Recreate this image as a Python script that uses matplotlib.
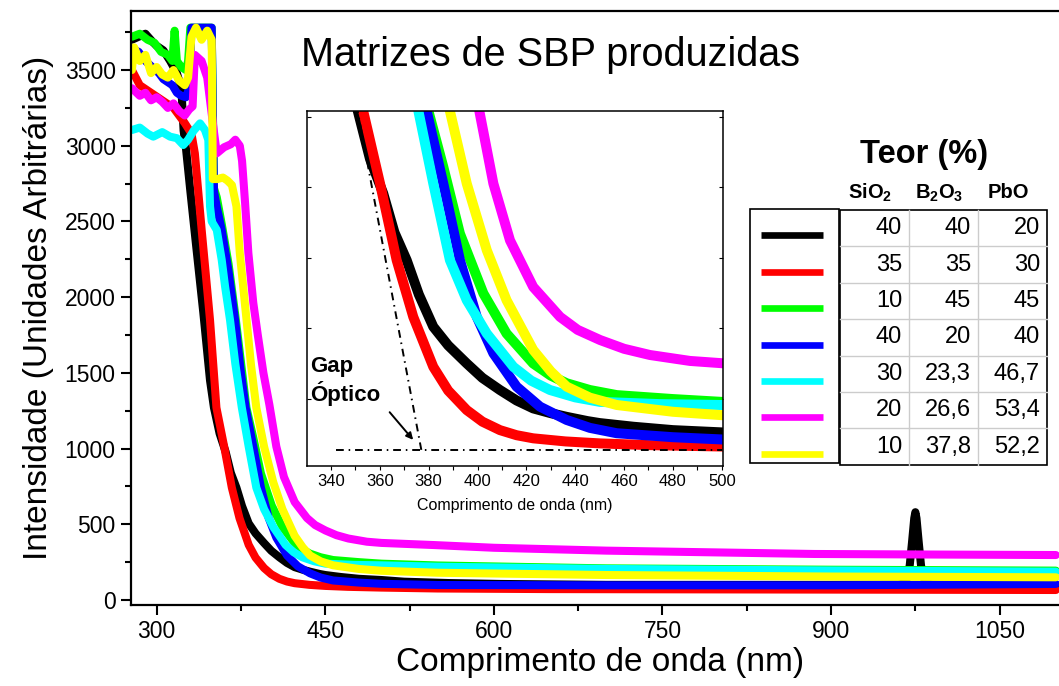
import matplotlib
matplotlib.use('Agg')
import matplotlib.pyplot as plt
from matplotlib.ticker import MultipleLocator
from matplotlib.patches import Rectangle
from matplotlib.lines import Line2D

plt.rcParams['font.family'] = ['Liberation Sans', 'DejaVu Sans']
plt.rcParams['mathtext.fontset'] = 'custom'
plt.rcParams['mathtext.rm'] = 'Liberation Sans'
plt.rcParams['mathtext.bf'] = 'Liberation Sans:bold'

# --- spectra (wavelength nm, intensity a.u.) ---
black_x = [278, 284, 290, 296, 300, 306, 312, 318, 322, 324, 326, 330, 335, 341.5, 347.5, 351, 356,
           361.4, 366, 371, 376, 381.9, 388, 395.6, 402, 409.2, 416, 422.8, 430, 436.5, 445, 450, 463.8,
           480, 500, 520, 560, 606, 700, 800, 900, 960, 965, 968, 970, 972, 974, 975, 976, 978, 980,
           982, 985, 990, 1000, 1050, 1100]
black_y = [3700, 3720, 3740, 3690, 3660, 3630, 3560, 3480, 3380, 3100, 2990, 2700, 2350, 1900, 1450,
           1270, 1100, 978, 840, 742, 620, 506, 440, 376, 325, 282, 245, 217, 200, 187, 172, 165, 152,
           140, 132, 121, 112, 106, 100, 100, 100, 102, 110, 150, 230, 380, 540, 580, 540, 380, 230,
           150, 110, 102, 100, 100, 100]

red_x = [278, 285, 295, 305, 315, 325, 331, 334, 340, 347.5, 353.2, 360.1, 366.9, 373.7, 381.9, 388,
         395.6, 402, 409.2, 416, 422.8, 436, 450.2, 470, 500, 550, 650, 800, 950, 1100]
red_y = [3500, 3400, 3350, 3300, 3250, 3150, 3080, 2950, 2450, 1849, 1270, 1013, 742, 541, 364, 280,
         211, 170, 140, 122, 111, 100, 93, 87, 82, 76, 72, 70, 68, 66]

green_x = [278, 285, 292, 298, 304, 310, 314, 316, 318, 322, 326, 328, 330, 349, 351, 353.5, 358, 364,
           370, 379.9, 386, 392.8, 402.4, 411.9, 422.8, 430, 436.5, 446, 457, 480, 500, 550, 700, 900,
           1100]
green_y = [3720, 3740, 3700, 3680, 3620, 3600, 3560, 3760, 3560, 3520, 3500, 3560, 3780, 3780, 2720,
           2660, 2480, 2220, 1880, 1270, 1072, 836, 624, 482, 376, 333, 306, 282, 264, 250, 240, 228,
           209, 200, 194]

blue_x = [278, 284, 290, 296, 302, 306, 310, 314, 318, 322, 326, 329, 331, 349, 351, 353.5, 357.9,
          363.8, 369.8, 375, 379.2, 386, 392.8, 399.7, 406.5, 416, 425.6, 436.5, 446, 457, 480, 500,
          550, 700, 900, 1100]
blue_y = [3640, 3620, 3560, 3520, 3480, 3440, 3420, 3400, 3350, 3330, 3320, 3380, 3780, 3780, 2700,
          2598, 2444, 2180, 1849, 1500, 1270, 1013, 742, 541, 412, 294, 223, 176, 148, 129, 115, 107,
          99, 97, 97, 106]

cyan_x = [278, 285, 292, 297, 305, 312, 318, 323.7, 328, 333, 338.6, 343, 346, 347.5, 349, 353.5, 357.9,
          360.9, 365.3, 370, 375.8, 381.9, 388.7, 395.6, 403.8, 414.7, 422, 429.7, 440, 450.2, 475,
          500, 550, 700, 900, 1100]
cyan_y = [3104, 3120, 3080, 3060, 3090, 3060, 3050, 3005, 3040, 3100, 3148, 3104, 3038, 2600, 2500,
          2444, 2246, 2070, 1849, 1560, 1270, 1013, 742, 600, 482, 364, 315, 282, 256, 240, 232, 229,
          220, 205, 195, 187]

magenta_x = [278, 285, 290, 295, 300, 305, 310, 315, 320, 325, 329, 332, 334, 340, 345, 350, 353.5,
             360, 366, 370, 374, 376, 378.7, 381.6, 386, 390, 395, 400.3, 406.5, 413.3, 422.8, 433.8,
             441, 450.2, 460, 470.6, 487, 500, 546.5, 600, 700, 885, 1000, 1100]
magenta_y = [3380, 3330, 3350, 3300, 3320, 3290, 3250, 3280, 3230, 3200, 3240, 3260, 3600, 3560, 3450,
             3150, 2950, 2990, 3010, 3040, 3000, 2900, 2622, 2292, 1962, 1750, 1500, 1290, 1013, 812,
             647, 541, 495, 459, 428, 406, 385, 377, 363, 345, 326, 304, 300, 297]

yellow_x = [278, 280, 285, 290, 295, 300, 305, 310, 315, 320, 325, 328, 331, 335, 340, 345, 349, 350,
            354, 359, 363, 367, 371, 374, 377, 380, 384, 388.7, 395.6, 403.8, 411.9, 422.8, 430,
            436.5, 446, 457, 480, 500, 550, 700, 900, 1100]
yellow_y = [3500, 3650, 3560, 3600, 3480, 3520, 3470, 3450, 3500, 3430, 3400, 3450, 3720, 3780, 3700,
            3760, 3700, 2780, 2780, 2790, 2770, 2740, 2600, 2290, 2070, 1849, 1550, 1270, 1013, 777,
            600, 424, 348, 294, 255, 229, 205, 193, 180, 165, 155, 150]

colors = ['#000000', '#ff0000', '#00ff00', '#0000ff', '#00ffff', '#ff00ff', '#ffff00']
series = [(black_x, black_y), (red_x, red_y), (green_x, green_y), (blue_x, blue_y),
          (cyan_x, cyan_y), (magenta_x, magenta_y), (yellow_x, yellow_y)]

# composition table (%)
sio2 = ['40', '35', '10', '40', '30', '20', '10']
b2o3 = ['40', '35', '45', '20', '23,3', '26,6', '37,8']
pbo = ['20', '30', '45', '40', '46,7', '53,4', '52,2']
headers = ['SiO$_\\mathbf{2}$', 'B$_\\mathbf{2}$O$_\\mathbf{3}$', 'PbO']

# optical gap construction in the inset
tangent_x = [350.5, 377]
tangent_y = [1290, 70]
base_x = [342, 500]
base_y = [70, 70]
arrow_from = (363.3, 211)
arrow_to = (374.4, 98)

W, H = 1059, 686
fig = plt.figure(figsize=(W / 100, H / 100), dpi=100)

# ---- main axes ----
ax = fig.add_axes([131 / W, 1 - 605 / H, 1 - 131 / W + 0.01, (605 - 11) / H])
for (x, y), c in zip(series, colors):
    ax.plot(x, y, color=c, lw=5.8, solid_joinstyle='round', solid_capstyle='round')
ax.set_xlim(277.2, 1112.2)
ax.set_ylim(-33, 3890)
ax.xaxis.set_major_locator(MultipleLocator(150))
ax.xaxis.set_minor_locator(MultipleLocator(75))
ax.yaxis.set_major_locator(MultipleLocator(500))
ax.yaxis.set_minor_locator(MultipleLocator(250))
ax.tick_params(which='major', direction='out', length=7, width=1.5, labelsize=16.5, pad=4)
ax.tick_params(which='minor', direction='out', length=4, width=1.5)
ax.tick_params(top=False, right=False)
for s in ['left', 'bottom', 'top']:
    ax.spines[s].set_linewidth(1.6)
ax.spines['right'].set_visible(False)
ax.set_xlabel('Comprimento de onda (nm)', fontsize=24, labelpad=3)
ax.set_ylabel('Intensidade (Unidades Arbitrárias)', fontsize=24, labelpad=8)
ax.text(428, 3600, 'Matrizes de SBP produzidas', fontsize=28.5, va='center', ha='left')

# ---- inset ----
axi = fig.add_axes([307 / W, 1 - 466 / H, (723 - 307) / W, (466 - 111) / H])
for (x, y), c in zip(series, colors):
    axi.plot(x, y, color=c, lw=7.2, solid_joinstyle='round')
axi.plot(tangent_x, tangent_y, color='black', lw=1.4, ls=(0, (4, 2.5, 0.8, 2.5)))
axi.plot(base_x, base_y, color='black', lw=1.4, ls=(0, (4, 2.5, 0.8, 2.5)))
axi.annotate('', xy=arrow_to, xytext=arrow_from,
             arrowprops=dict(arrowstyle='-|>', color='black', lw=1.4, mutation_scale=10))
axi.text(331.4, 367, 'Gap', fontsize=16, fontweight='bold', va='center', ha='left')
axi.text(331.4, 268, 'Óptico', fontsize=16, fontweight='bold', va='center', ha='left')
axi.set_xlim(330.2, 500.5)
axi.set_ylim(13, 1270)
axi.xaxis.set_major_locator(MultipleLocator(20))
axi.xaxis.set_minor_locator(MultipleLocator(10))
axi.yaxis.set_major_locator(MultipleLocator(250))
axi.tick_params(axis='x', which='both', direction='out', length=3, width=0.8, labelsize=12, pad=3)
axi.tick_params(axis='y', which='both', direction='in', length=3, width=0.8, left=True, right=True,
                labelleft=False)
for s in axi.spines.values():
    s.set_linewidth(1.1)
axi.set_xlabel('Comprimento de onda (nm)', fontsize=11.5, labelpad=6)

# ---- composition table with line keys ----
tab = fig.add_axes([0, 0, 1, 1])
tab.set_xlim(0, W)
tab.set_ylim(H, 0)
tab.axis('off')

row_top, row_h = 210, 36.4
n = len(sio2)
tab.add_patch(Rectangle((750, 209), 89, 254, fill=False, ec='black', lw=1.2))
col_edges = [840, 909, 978, 1047]
for i in range(1, n):
    yy = row_top + i * row_h
    tab.plot([840, 1047], [yy, yy], color='#cccccc', lw=1.0)
for xx in col_edges[1:3]:
    tab.plot([xx, xx], [row_top, row_top + n * row_h], color='#cccccc', lw=1.0)
tab.add_patch(Rectangle((840, row_top), 207, n * row_h, fill=False, ec='black', lw=1.2))

for i, c in enumerate(colors):
    yc = row_top + (i + 0.7) * row_h
    tab.add_line(Line2D([761, 823], [yc, yc], color=c, lw=4.8, solid_capstyle='butt'))
    yt = row_top + (i + 0.5) * row_h
    for j, col in enumerate([sio2, b2o3, pbo]):
        tab.text(col_edges[j + 1] - 7, yt, col[i], fontsize=17, ha='right', va='center')

tab.text(924, 154, 'Teor (%)', fontsize=23.5, fontweight='bold', ha='center', va='center')
for j, h in enumerate(headers):
    tab.text((col_edges[j] + col_edges[j + 1]) / 2 - 4, 193, h, fontsize=14.5, fontweight='bold',
             ha='center', va='center')

fig.savefig('out.png', dpi=100)
